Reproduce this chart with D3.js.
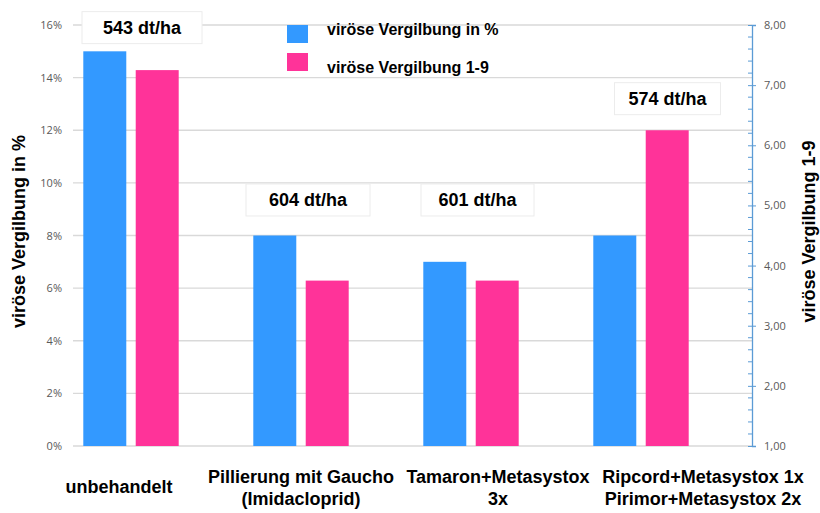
<!DOCTYPE html>
<html>
<head>
<meta charset="utf-8">
<script src="https://cdn.jsdelivr.net/npm/d3@7"></script>
<style>
  html, body { margin: 0; padding: 0; background: #ffffff; }
  svg { display: block; }
</style>
</head>
<body>
<svg id="chart" width="820" height="513"></svg>
<script>
// ---------- data ----------
const categories = ["unbehandelt", "Pillierung mit Gaucho", "Tamaron+Metasystox", "Ripcord+Metasystox"];
const categoryLines = [
  ["unbehandelt"],
  ["Pillierung mit Gaucho", "(Imidacloprid)"],
  ["Tamaron+Metasystox", "3x"],
  ["Ripcord+Metasystox 1x", "Pirimor+Metasystox 2x"]
];
const percentValues = [15, 8, 7, 8];          // viröse Vergilbung in %
const scoreValues = [7.25, 3.75, 3.75, 6.25]; // viröse Vergilbung 1-9
const yieldLabels = ["543 dt/ha", "604 dt/ha", "601 dt/ha", "574 dt/ha"];
const seriesNames = ["viröse Vergilbung in %", "viröse Vergilbung 1-9"];
const leftTicks = [0, 2, 4, 6, 8, 10, 12, 14, 16];
const rightTicks = [1, 2, 3, 4, 5, 6, 7, 8];

// ---------- layout ----------
const colors = ["#3399ff", "#ff3399"];
const W = 820, H = 513;
const plot = { left: 73, right: 752, top: 25, bottom: 446 };
const labelAnchor = [15.9, 9.35, 9.35, 13.2];   // box centre on left scale
const labelDx = [11, 7, 6.5, 26.5];
const labelBoxW = [120, 124, 113, 106];
const catLabelDx = [-12, 0, 27, 62];

const svg = d3.select("#chart");
const fontFam = "'Liberation Sans', Arial, sans-serif";

const x0 = d3.scaleBand().domain(categories).range([46, 726]).paddingInner(0).paddingOuter(0);
const x1 = d3.scaleBand().domain([0, 1]).range([37.3, 132.7]).paddingInner(0.18).paddingOuter(0);
const yL = d3.scaleLinear().domain([0, 16]).range([plot.bottom, plot.top]);
const yR = d3.scaleLinear().domain([1, 8]).range([plot.bottom, plot.top]);

// gridlines
svg.append("g").selectAll("line").data(leftTicks).join("line")
  .attr("x1", plot.left).attr("x2", plot.right)
  .attr("y1", d => yL(d)).attr("y2", d => yL(d))
  .attr("stroke", "#d9d9d9").attr("stroke-width", 1.4);

// left tick labels
const leftAxis = d3.axisLeft(yL).tickValues(leftTicks).tickSize(0).tickPadding(0)
  .tickFormat(d => d + "%");
const gL = svg.append("g").attr("transform", `translate(${plot.left - 11},0)`).call(leftAxis);
gL.select(".domain").remove();
gL.selectAll("text").attr("fill", "#595959").attr("font-size", 11)
  .attr("font-family", "'Open Sans', " + fontFam);

// bars
const groups = svg.append("g").selectAll("g").data(categories).join("g")
  .attr("transform", d => `translate(${x0(d)},0)`);
groups.append("rect")
  .attr("x", x1(0)).attr("width", x1.bandwidth())
  .attr("y", (d, i) => yL(percentValues[i]))
  .attr("height", (d, i) => plot.bottom - yL(percentValues[i]))
  .attr("fill", colors[0]);
groups.append("rect")
  .attr("x", x1(1)).attr("width", x1.bandwidth())
  .attr("y", (d, i) => yR(scoreValues[i]))
  .attr("height", (d, i) => plot.bottom - yR(scoreValues[i]))
  .attr("fill", colors[1]);

// right axis
const rightAxis = d3.axisRight(yR).tickValues(rightTicks).tickSize(4).tickPadding(8)
  .tickFormat(d => d3.format(".2f")(d).replace(".", ","));
const gR = svg.append("g").attr("transform", `translate(${plot.right},0)`).call(rightAxis);
gR.select(".domain").attr("stroke", "#5b9bd5").attr("stroke-width", 1.3);
gR.selectAll(".tick line").attr("stroke", "#5b9bd5").attr("x1", -4).attr("x2", 4);
gR.selectAll("text").attr("fill", "#595959").attr("font-size", 11)
  .attr("font-family", "'Open Sans', " + fontFam);
// minor ticks
const minor = d3.range(1, 8.001, 0.2).filter(v => Math.abs(v - Math.round(v)) > 0.01);
gR.append("g").selectAll("line").data(minor).join("line")
  .attr("x1", -4).attr("x2", 0)
  .attr("y1", d => yR(d)).attr("y2", d => yR(d))
  .attr("stroke", "#5b9bd5").attr("stroke-width", 1);

// yield label boxes
const lab = svg.append("g").selectAll("g").data(categories).join("g")
  .attr("transform", (d, i) => `translate(${x0(d) + x0.bandwidth() / 2 + labelDx[i]},${yL(labelAnchor[i])})`);
lab.append("rect")
  .attr("x", (d, i) => -labelBoxW[i] / 2).attr("y", -16)
  .attr("width", (d, i) => labelBoxW[i]).attr("height", 32)
  .attr("fill", "#ffffff").attr("stroke", "#ececec").attr("stroke-width", 1);
lab.append("text")
  .attr("text-anchor", "middle").attr("y", 6.5)
  .attr("font-family", fontFam).attr("font-weight", "bold").attr("font-size", 18)
  .attr("fill", "#000")
  .text((d, i) => yieldLabels[i]);

// category labels
const cl = svg.append("g").selectAll("text").data(categories).join("text")
  .attr("text-anchor", "middle")
  .attr("font-family", fontFam).attr("font-weight", "bold").attr("font-size", 18)
  .attr("fill", "#000");
cl.each(function (d, i) {
  const lines = categoryLines[i];
  const cx = x0(d) + x0.bandwidth() / 2 + catLabelDx[i];
  const baseY = lines.length === 1 ? 493 : 483;
  d3.select(this).selectAll("tspan").data(lines).join("tspan")
    .attr("x", cx).attr("y", (t, k) => baseY + k * 22).text(t => t);
});

// axis titles
svg.append("text")
  .attr("transform", `translate(25,${(plot.top + plot.bottom) / 2 - 4}) rotate(-90)`)
  .attr("text-anchor", "middle")
  .attr("font-family", fontFam).attr("font-weight", "bold").attr("font-size", 18)
  .text(seriesNames[0]);
svg.append("text")
  .attr("transform", `translate(815,${(plot.top + plot.bottom) / 2 - 4}) rotate(-90)`)
  .attr("text-anchor", "middle")
  .attr("font-family", fontFam).attr("font-weight", "bold").attr("font-size", 18)
  .text(seriesNames[1]);

// legend
const leg = svg.append("g").selectAll("g").data(seriesNames).join("g")
  .attr("transform", (d, i) => `translate(287,${25 + i * 28})`);
leg.append("rect").attr("width", 21).attr("height", 18)
  .attr("fill", (d, i) => colors[i]);
leg.append("text").attr("x", 40).attr("y", (d, i) => 10 + i * 10)
  .attr("font-family", fontFam).attr("font-weight", "bold").attr("font-size", 16)
  .text(d => d);
</script>
</body>
</html>
